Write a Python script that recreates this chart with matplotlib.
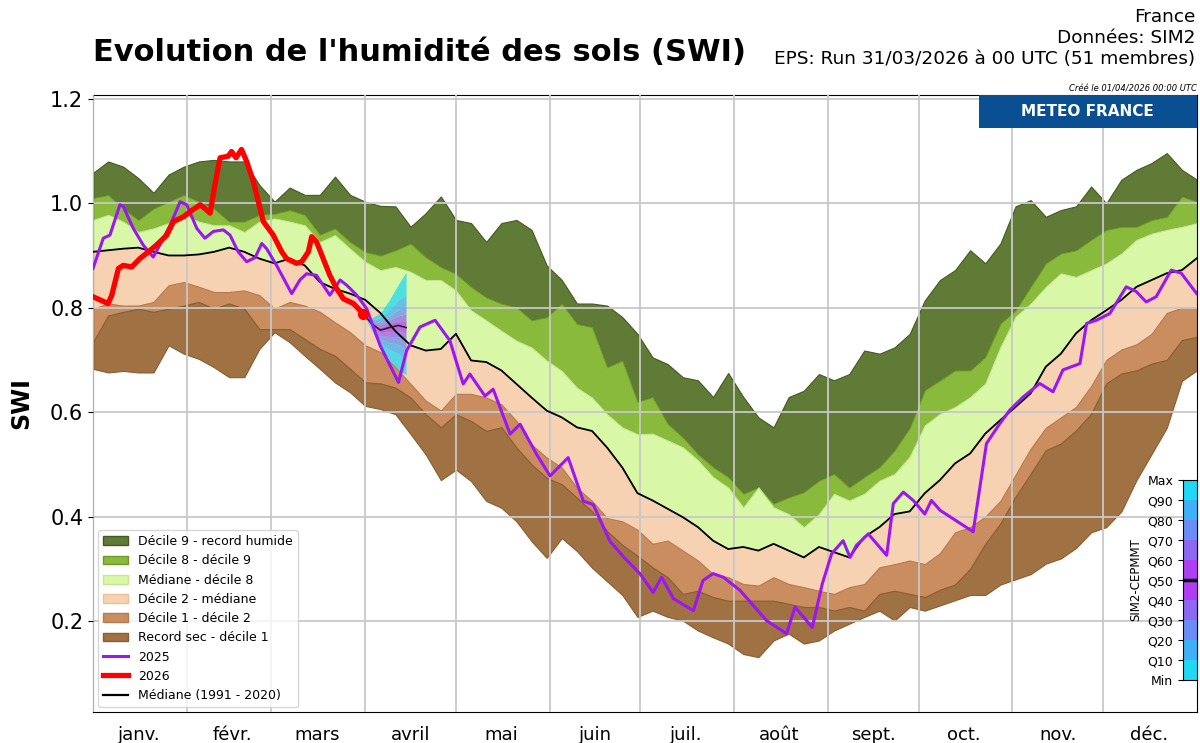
import numpy as np
import matplotlib
matplotlib.use("Agg")
import matplotlib.pyplot as plt
from matplotlib.patches import Patch, Rectangle
from matplotlib.lines import Line2D
from matplotlib.colors import ListedColormap

# --- climatology bands (SWI, one value every 5 days, day 0 = 1 Jan) ---
days = list(range(0, 366, 5))

rec_max = [1.058, 1.08, 1.07, 1.048, 1.02, 1.055, 1.07, 1.08, 1.083, 1.08, 1.08, 1.035, 1.003, 1.03, 1.016,
           1.016, 1.051, 1.016, 1.003, 0.995, 0.994, 0.955, 0.981, 1.013, 0.968, 0.962, 0.926, 0.962, 0.968,
           0.949, 0.881, 0.853, 0.808, 0.808, 0.804, 0.782, 0.75, 0.705, 0.692, 0.667, 0.661, 0.629, 0.675,
           0.629, 0.59, 0.571, 0.629, 0.641, 0.673, 0.661, 0.673, 0.718, 0.712, 0.724, 0.75, 0.814, 0.853,
           0.872, 0.91, 0.885, 0.923, 0.994, 1.006, 0.974, 0.987, 0.994, 1.032, 1.0, 1.045, 1.064, 1.077,
           1.096, 1.064, 1.045]
dec9 = [1.01, 1.016, 0.99, 0.968, 0.99, 1.003, 1.016, 1.003, 0.99, 0.965, 0.965, 0.978, 0.98, 0.987, 0.978,
        0.94, 0.952, 0.926, 0.907, 0.90, 0.91, 0.923, 0.897, 0.878, 0.865, 0.84, 0.82, 0.808, 0.801, 0.776,
        0.782, 0.808, 0.769, 0.763, 0.686, 0.699, 0.62, 0.629, 0.578, 0.552, 0.52, 0.495, 0.476, 0.444,
        0.456, 0.425, 0.437, 0.447, 0.469, 0.482, 0.456, 0.476, 0.495, 0.527, 0.57, 0.642, 0.661, 0.68,
        0.68, 0.706, 0.77, 0.795, 0.84, 0.885, 0.904, 0.91, 0.93, 0.949, 0.955, 0.955, 0.968, 0.974, 1.013,
        1.003]
dec8 = [0.968, 0.978, 0.965, 0.945, 0.952, 0.962, 0.978, 0.965, 0.958, 0.958, 0.945, 0.965, 0.971, 0.965,
        0.958, 0.926, 0.939, 0.913, 0.888, 0.872, 0.878, 0.869, 0.853, 0.853, 0.833, 0.795, 0.776, 0.756,
        0.737, 0.724, 0.699, 0.679, 0.647, 0.628, 0.596, 0.571, 0.558, 0.559, 0.546, 0.533, 0.508, 0.476,
        0.456, 0.418, 0.456, 0.418, 0.405, 0.38, 0.405, 0.444, 0.431, 0.444, 0.469, 0.482, 0.515, 0.575,
        0.597, 0.61, 0.629, 0.655, 0.725, 0.783, 0.808, 0.84, 0.866, 0.859, 0.872, 0.885, 0.904, 0.93,
        0.942, 0.949, 0.955, 0.962]
median = [0.907, 0.91, 0.913, 0.915, 0.907, 0.9, 0.9, 0.902, 0.907, 0.915, 0.907, 0.894, 0.885, 0.894, 0.881,
          0.849, 0.836, 0.827, 0.815, 0.79, 0.755, 0.728, 0.718, 0.721, 0.75, 0.699, 0.696, 0.68, 0.654,
          0.628, 0.603, 0.59, 0.571, 0.564, 0.532, 0.494, 0.445, 0.431, 0.415, 0.399, 0.38, 0.354, 0.338,
          0.342, 0.335, 0.348, 0.335, 0.322, 0.342, 0.332, 0.322, 0.361, 0.38, 0.405, 0.41, 0.445, 0.47,
          0.502, 0.521, 0.559, 0.585, 0.61, 0.636, 0.687, 0.712, 0.751, 0.776, 0.795, 0.815, 0.84, 0.853,
          0.866, 0.872, 0.895]
dec2 = [0.798, 0.808, 0.804, 0.804, 0.811, 0.843, 0.849, 0.84, 0.83, 0.83, 0.833, 0.824, 0.798, 0.811, 0.804,
        0.792, 0.772, 0.753, 0.728, 0.715, 0.686, 0.654, 0.622, 0.603, 0.635, 0.635, 0.628, 0.615, 0.583,
        0.538, 0.513, 0.494, 0.455, 0.43, 0.397, 0.391, 0.375, 0.348, 0.354, 0.335, 0.316, 0.29, 0.284,
        0.271, 0.268, 0.284, 0.271, 0.265, 0.258, 0.252, 0.265, 0.271, 0.303, 0.309, 0.316, 0.309, 0.33,
        0.37, 0.38, 0.40, 0.43, 0.48, 0.53, 0.57, 0.59, 0.61, 0.65, 0.70, 0.72, 0.73, 0.75, 0.79, 0.80, 0.80]
dec1 = [0.734, 0.785, 0.792, 0.798, 0.792, 0.798, 0.804, 0.811, 0.798, 0.808, 0.798, 0.759, 0.759, 0.759, 0.74,
        0.721, 0.708, 0.683, 0.657, 0.655, 0.647, 0.628, 0.596, 0.571, 0.596, 0.583, 0.564, 0.571, 0.532,
        0.5, 0.474, 0.462, 0.436, 0.41, 0.372, 0.346, 0.325, 0.303, 0.284, 0.252, 0.258, 0.246, 0.239,
        0.239, 0.239, 0.239, 0.233, 0.227, 0.227, 0.22, 0.227, 0.22, 0.252, 0.258, 0.252, 0.246, 0.26,
        0.27, 0.30, 0.348, 0.387, 0.438, 0.482, 0.527, 0.54, 0.565, 0.597, 0.655, 0.674, 0.68, 0.693, 0.70,
        0.738, 0.744]
rec_min = [0.683, 0.676, 0.679, 0.676, 0.676, 0.728, 0.712, 0.702, 0.686, 0.667, 0.667, 0.721, 0.753, 0.734,
           0.708, 0.683, 0.657, 0.638, 0.612, 0.606, 0.596, 0.558, 0.519, 0.47, 0.49, 0.468, 0.43, 0.417,
           0.391, 0.353, 0.321, 0.359, 0.334, 0.302, 0.276, 0.25, 0.208, 0.22, 0.208, 0.201, 0.182, 0.169,
           0.157, 0.137, 0.131, 0.163, 0.176, 0.157, 0.163, 0.182, 0.195, 0.208, 0.22, 0.201, 0.227, 0.22,
           0.23, 0.24, 0.25, 0.25, 0.27, 0.28, 0.29, 0.31, 0.32, 0.34, 0.37, 0.38, 0.41, 0.47, 0.52, 0.57,
           0.66, 0.68]

# --- year 2025 ---
days_2025 = [0, 3.4, 5.6, 8.9, 10, 13.3, 16.6, 19.9, 22.1, 25.5, 28.8, 31, 34.3, 37, 39.8, 43.1, 45.3, 48,
             50.8, 53.6, 55.8, 57.4, 60.7, 65.7, 68.4, 70.6, 73.9, 78.3, 81.7, 83.9, 87.2, 90.5, 94.9, 101,
             103.7, 108.1, 113.1, 118, 120, 122.4, 124.6, 129.6, 132.3, 137.9, 141.2, 146.7, 151.1, 157.1,
             162.1, 165.4, 170.9, 175.9, 180.8, 185.2, 188, 191.9, 198.5, 201.7, 205, 208.4, 213.9, 222.7,
             229.3, 232.1, 237.8, 241.1, 244.2, 248, 250.3, 252.4, 256.3, 262.4, 264.6, 267.9, 271.2, 275,
             277.2, 280.1, 291, 295.4, 299.8, 303.1, 307.5, 313, 317.4, 320.7, 326.3, 328.5, 331.8, 336.2,
             341.6, 344.9, 348.2, 351.5, 356.5, 359.8, 364.9]
swi_2025 = [0.875, 0.933, 0.939, 0.997, 0.994, 0.952, 0.92, 0.897, 0.92, 0.958, 1.003, 0.997, 0.952, 0.933,
            0.946, 0.949, 0.939, 0.907, 0.888, 0.896, 0.923, 0.913, 0.881, 0.827, 0.853, 0.865, 0.862, 0.824,
            0.853, 0.843, 0.824, 0.798, 0.728, 0.657, 0.718, 0.763, 0.776, 0.737, 0.699, 0.654, 0.673, 0.631,
            0.644, 0.558, 0.577, 0.519, 0.478, 0.513, 0.43, 0.423, 0.353, 0.32, 0.291, 0.255, 0.284, 0.243,
            0.22, 0.278, 0.291, 0.284, 0.259, 0.201, 0.176, 0.227, 0.188, 0.271, 0.329, 0.354, 0.322, 0.345,
            0.367, 0.326, 0.425, 0.447, 0.431, 0.405, 0.431, 0.412, 0.371, 0.54, 0.578, 0.604, 0.629, 0.655,
            0.639, 0.681, 0.693, 0.77, 0.776, 0.789, 0.84, 0.831, 0.811, 0.821, 0.872, 0.866, 0.827]

# --- year 2026 (analysis up to 31/03) ---
days_2026 = [0, 5, 6.2, 8.4, 10, 12.8, 15.5, 18.3, 21, 24.4, 26.6, 29.9, 32.1, 35.4, 37, 38.7, 40.3, 42,
             44.7, 45.8, 47.3, 49.1, 50.8, 53, 56.3, 59.6, 62.4, 64, 67.3, 69, 71.2, 72.3, 73.9, 76.1, 78.3,
             80.5, 82.8, 86.1, 89.4]
swi_2026 = [0.821, 0.808, 0.824, 0.875, 0.881, 0.878, 0.894, 0.907, 0.92, 0.939, 0.965, 0.974, 0.984, 0.997,
            0.99, 0.981, 1.035, 1.087, 1.09, 1.099, 1.087, 1.103, 1.08, 1.042, 0.965, 0.939, 0.907, 0.894,
            0.885, 0.888, 0.907, 0.936, 0.926, 0.894, 0.862, 0.837, 0.817, 0.808, 0.788]

# --- EPS plume (quantiles of the 51 members) ---
eps_days = [89.4, 92, 95, 98, 101, 103.5]
eps_q = {
    "Min": [0.788, 0.758, 0.725, 0.70, 0.68, 0.672],
    "Q10": [0.788, 0.762, 0.733, 0.72, 0.712, 0.70],
    "Q20": [0.788, 0.765, 0.74, 0.733, 0.73, 0.72],
    "Q30": [0.788, 0.767, 0.746, 0.745, 0.744, 0.737],
    "Q40": [0.788, 0.769, 0.752, 0.754, 0.756, 0.75],
    "Q50": [0.788, 0.77, 0.757, 0.762, 0.766, 0.762],
    "Q60": [0.788, 0.771, 0.762, 0.77, 0.775, 0.775],
    "Q70": [0.788, 0.773, 0.767, 0.777, 0.785, 0.788],
    "Q80": [0.788, 0.775, 0.772, 0.785, 0.797, 0.803],
    "Q90": [0.788, 0.777, 0.78, 0.797, 0.815, 0.825],
    "Max": [0.788, 0.78, 0.79, 0.815, 0.845, 0.868],
}
q_names = list(eps_q.keys())
q_colors = ["#1ed8f6", "#3fb1f7", "#6a8ef5", "#8c68f3", "#b03ef4",
            "#b03ef4", "#8c68f3", "#6a8ef5", "#3fb1f7", "#1ed8f6"]

month_starts = [0, 31, 59, 90, 120, 151, 181, 212, 243, 273, 304, 334]
month_labels = ["janv.", "févr.", "mars", "avril", "mai", "juin", "juil.", "août", "sept.", "oct.", "nov.", "déc."]

bands = [
    (dec9, rec_max, "#5f7b36", "#435a22", "Décile 9 - record humide"),
    (dec8, dec9, "#8aba3b", "#6f9a2a", "Décile 8 - décile 9"),
    (median, dec8, "#d8f8a8", "#c2e890", "Médiane - décile 8"),
    (dec2, median, "#f6d2b2", "#ecc09c", "Décile 2 - médiane"),
    (dec1, dec2, "#c98d5f", "#b77a4c", "Décile 1 - décile 2"),
    (rec_min, dec1, "#a07142", "#8a5e33", "Record sec - décile 1"),
]

fig = plt.figure(figsize=(12, 7.43), dpi=100)
ax = fig.add_axes([0.0775, 0.0417, 0.92, 0.8303])

handles = []
for low, high, fc, ec, lab in bands:
    ax.fill_between(days, low, high, facecolor=fc, edgecolor=ec, linewidth=0.8, zorder=1)
    handles.append(Patch(facecolor=fc, edgecolor=ec, label=lab))

# plume
for i in range(10):
    ax.fill_between(eps_days, eps_q[q_names[i]], eps_q[q_names[i + 1]], color=q_colors[i],
                    alpha=0.75, linewidth=0, zorder=3)

ax.plot(days, median, color="black", lw=1.3, zorder=4)
ax.plot(eps_days, eps_q["Q50"], color="#222222", lw=1.2, zorder=4.5)
ax.plot(days_2025, swi_2025, color="#9b16f0", lw=2.2, zorder=5)
ax.plot(days_2026, swi_2026, color="#ff0000", lw=3.8, zorder=6)
ax.plot(days_2026[-1], swi_2026[-1], "o", color="#ff0000", ms=7, zorder=6)

handles += [Line2D([], [], color="#9b16f0", lw=2.2, label="2025"),
            Line2D([], [], color="#ff0000", lw=3.8, label="2026"),
            Line2D([], [], color="black", lw=1.6, label="Médiane (1991 - 2020)")]

ax.set_xlim(0, 365)
ax.set_ylim(0.026, 1.207)
ax.set_xticks(month_starts)
ax.set_xticklabels([])
ax.set_xticks([m + 15 for m in month_starts], minor=True)
ax.set_xticklabels(month_labels, minor=True, fontsize=13)
ax.tick_params(axis="x", which="both", length=0, pad=10)
ax.set_yticks([0.2, 0.4, 0.6, 0.8, 1.0, 1.2])
ax.tick_params(axis="y", labelsize=15)
ax.set_axisbelow(False)
ax.grid(True, which="major", color="#c8c8c8", lw=1.3, zorder=2)
ax.set_ylabel("SWI", fontsize=17, fontweight="bold", labelpad=12)

ax.legend(handles=handles, loc="lower left", fontsize=9, framealpha=0.8, borderaxespad=0.4)

# texts
fig.text(0.0775, 0.93, "Evolution de l'humidité des sols (SWI)", fontsize=22, fontweight="bold",
         ha="left", va="center")
fig.text(0.996, 0.989, "France\nDonnées: SIM2\nEPS: Run 31/03/2026 à 00 UTC (51 membres)",
         fontsize=13.3, ha="right", va="top", multialignment="right", linespacing=1.22)
fig.text(0.9975, 0.880, "Créé le 01/04/2026 00:00 UTC", fontsize=6, style="italic", ha="right", va="center")
fig.patches.append(Rectangle((0.816, 0.828), 0.1815, 0.044, transform=fig.transFigure,
                             facecolor="#0b4f93", edgecolor="none", zorder=5))
fig.text(0.9065, 0.850, "METEO FRANCE", fontsize=11, fontweight="bold", color="white",
         ha="center", va="center", zorder=6)

# quantile colour bar
cax = fig.add_axes([0.9858, 0.0848, 0.0117, 0.269])
cax.pcolormesh([0, 1], np.arange(11), np.arange(10).reshape(10, 1), cmap=ListedColormap(q_colors),
               vmin=-0.5, vmax=9.5)
cax.axhline(5, color="black", lw=2.5)
cax.set_xticks([])
cax.set_yticks(range(11))
cax.set_yticklabels(q_names, fontsize=9)
cax.set_ylim(0, 10)
cax.set_ylabel("SIM2-CEPMMT", fontsize=8.5)

fig.savefig("out.png", dpi=100)
